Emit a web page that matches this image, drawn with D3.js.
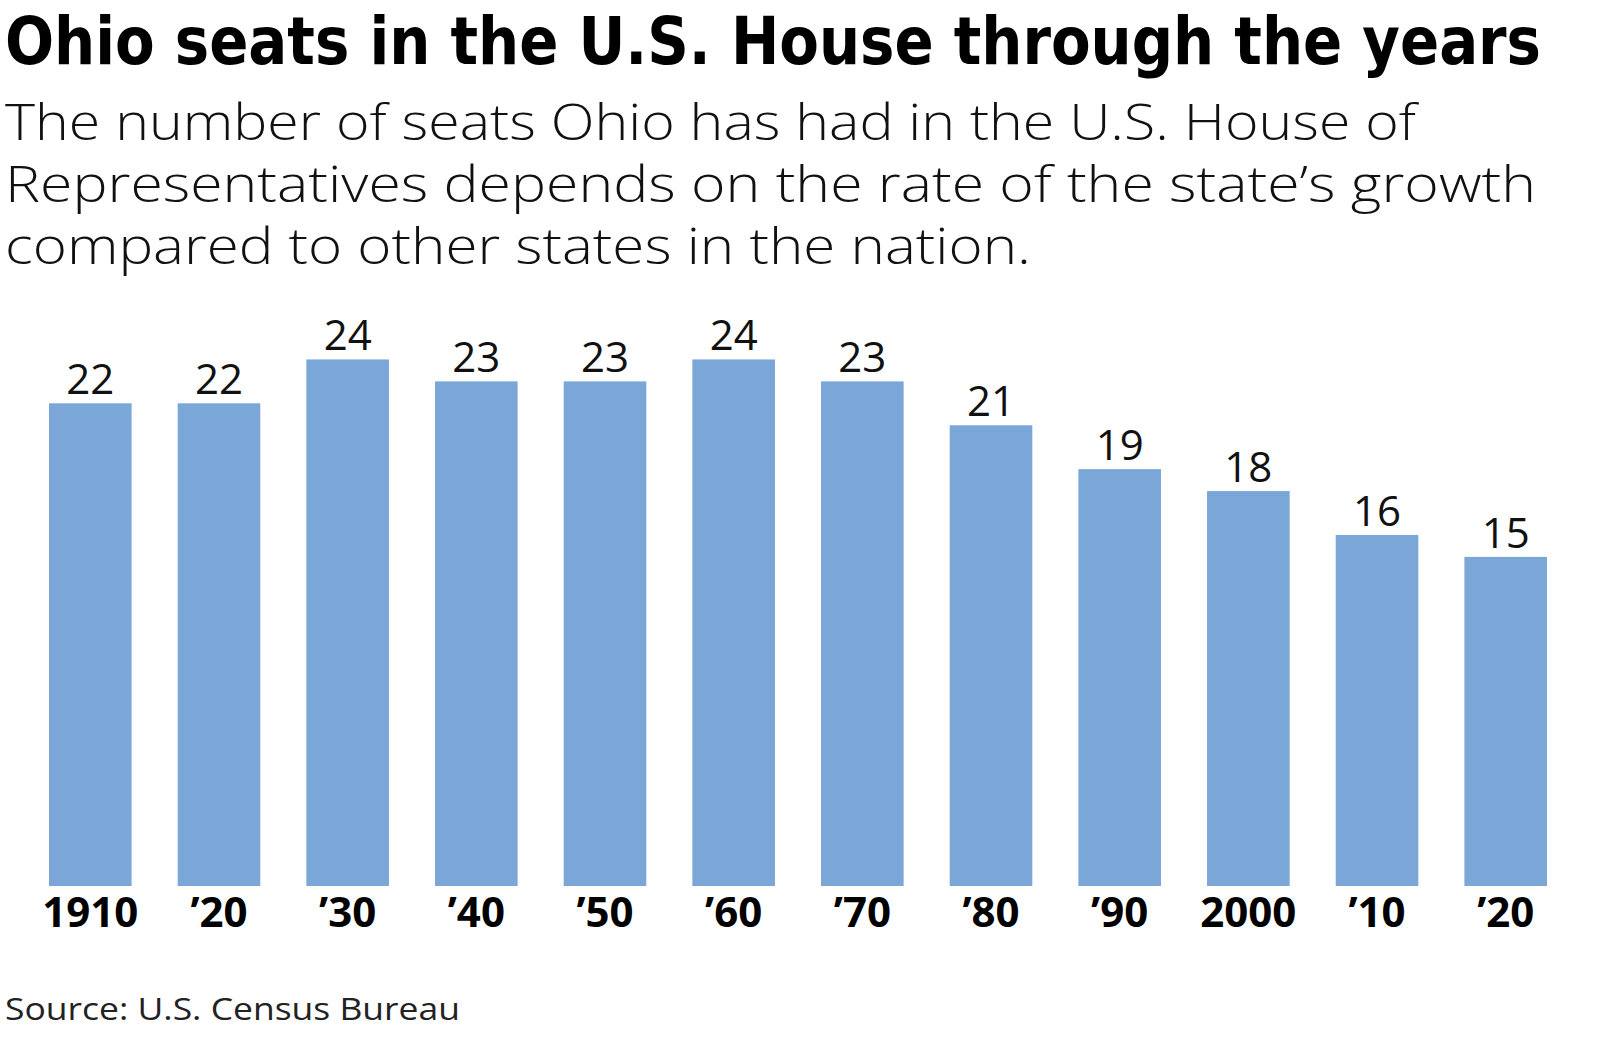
<!DOCTYPE html>
<html><head><meta charset="utf-8">
<script src="https://cdn.jsdelivr.net/npm/d3@7"></script>
<style>body{margin:0;background:#fff}svg{display:block}</style>
</head><body>
<svg id="chart" width="1600" height="1037"></svg>
<script>
const years = ["1910","’20","’30","’40","’50","’60","’70","’80","’90","2000","’10","’20"];
const seats = [22,22,24,23,23,24,23,21,19,18,16,15];
const title = "Ohio seats in the U.S. House through the years";
const subtitle = ["The number of seats Ohio has had in the U.S. House of",
  "Representatives depends on the rate of the state’s growth",
  "compared to other states in the nation."];
const source = "Source: U.S. Census Bureau";

const svg = d3.select("#chart");
svg.append("text").attr("x",5).attr("y",64)
  .attr("font-family","'DejaVu Sans Condensed','DejaVu Sans'").attr("font-weight","bold")
  .attr("font-stretch","condensed")
  .attr("font-size",66).attr("fill","#000")
  .attr("textLength",1536).attr("lengthAdjust","spacingAndGlyphs").text(title);

const subW = [1411,1531,1026];
subtitle.forEach((s,i)=>{
  svg.append("text").attr("x",5).attr("y",140+i*62)
    .attr("font-family","'Open Sans'").attr("font-weight",300).attr("font-size",50).attr("fill","#111")
    .attr("textLength",subW[i]).attr("lengthAdjust","spacingAndGlyphs").text(s);
});

const x = d3.scaleBand().domain(years.map((d,i)=>i)).range([49,1547]).paddingInner(0.358).paddingOuter(0);
const y = d3.scaleLinear().domain([0,24]).range([886,886-24*21.94]);

svg.selectAll("rect.bar").data(seats).join("rect").attr("class","bar")
  .attr("x",(d,i)=>x(i)).attr("width",x.bandwidth())
  .attr("y",d=>y(d)).attr("height",d=>y(0)-y(d)).attr("fill","#7ba6d8");

svg.selectAll("text.val").data(seats).join("text").attr("class","val")
  .attr("x",(d,i)=>x(i)+x.bandwidth()/2).attr("y",d=>y(d)-9)
  .attr("text-anchor","middle").attr("font-family","'Open Sans'").attr("font-size",42)
  .attr("fill","#111").text(d=>d);

const axis = d3.axisBottom(x).tickSize(0).tickPadding(0).tickFormat(i=>years[i]);
const g = svg.append("g").attr("transform","translate(0,886)").call(axis);
g.select(".domain").remove();
g.selectAll("text").attr("dy",0).attr("y",41).attr("font-family","'Open Sans'")
  .attr("font-weight","bold").attr("font-size",42).attr("fill","#000");

svg.append("text").attr("x",5).attr("y",1020).attr("font-family","'Open Sans'")
  .attr("font-size",31).attr("fill","#222").attr("textLength",455)
  .attr("lengthAdjust","spacingAndGlyphs").text(source);
</script>
</body></html>
